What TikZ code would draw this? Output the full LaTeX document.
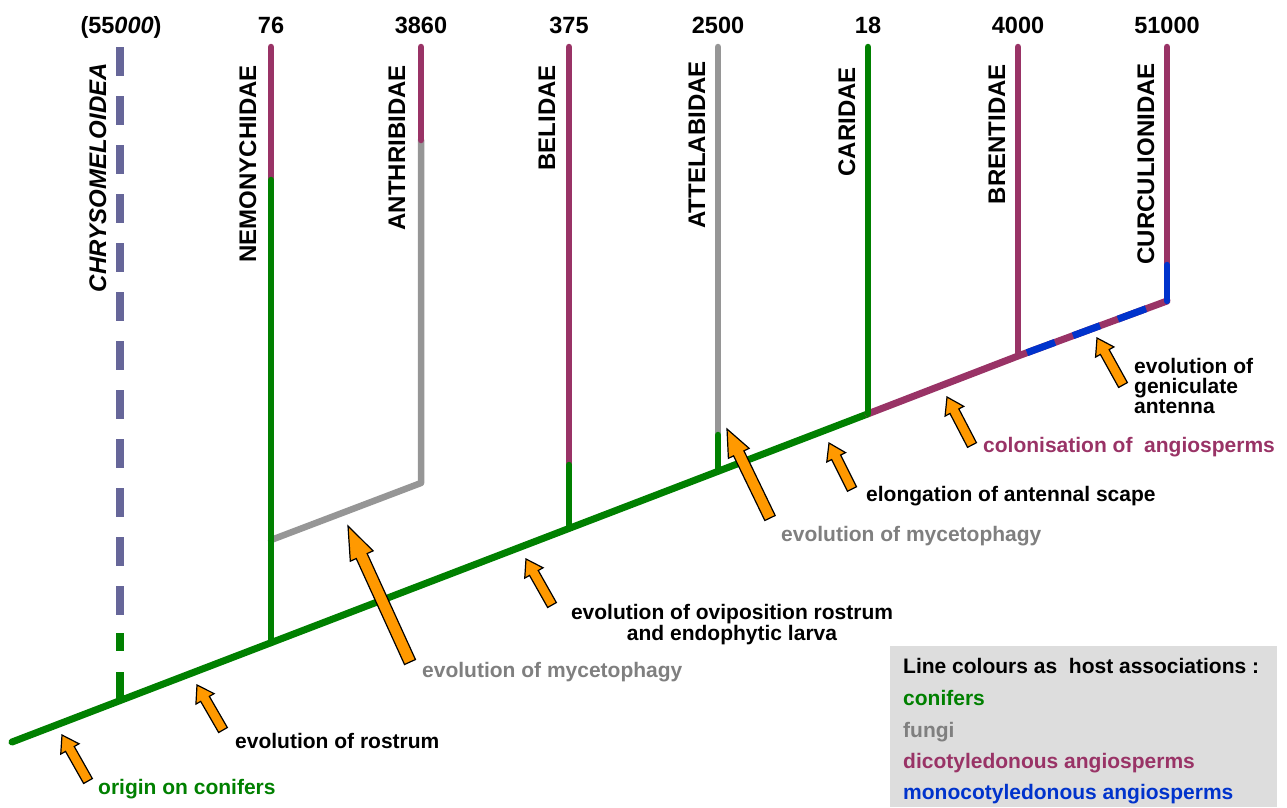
\documentclass[tikz,border=0pt]{standalone}
\usepackage{fontspec}
\setmainfont{Liberation Sans}
\usetikzlibrary{calc}
\definecolor{cgreen}{HTML}{008000}
\definecolor{cpurple}{HTML}{993366}
\definecolor{cgrey}{HTML}{969696}
\definecolor{ctxtgrey}{HTML}{7F7F7F}
\definecolor{cblue}{HTML}{0033CC}
\definecolor{clav}{HTML}{666699}
\definecolor{corange}{HTML}{FF9900}
\definecolor{clegend}{HTML}{DDDDDD}
\newcommand\blockarrow[7]{%
  \pgfmathsetmacro\baang{atan2(#2-#4,#3-#1)}%
  \pgfmathsetmacro\balen{veclen(#3-#1,#4-#2)}%
  \pgfmathsetmacro\bahb{\balen-#7}%
  \begin{scope}[shift={(#1,#2)},rotate=\baang]
    \draw[orarrow] (0,-#5/2) -- (\bahb,-#5/2) -- (\bahb,-#6/2) -- (\balen,0) -- (\bahb,#6/2) -- (\bahb,#5/2) -- (0,#5/2) -- cycle;
  \end{scope}}
\begin{document}
\begin{tikzpicture}[x=1pt,y=-1pt,
  br/.style={line width=6.5pt,line cap=round,line join=round},
  trunk/.style={line width=7pt,line cap=round,line join=round},
  orarrow/.style={draw=black,line width=1.2pt,fill=corange,line join=miter},
  fam/.style={font=\fontsize{24}{24}\selectfont\bfseries,rotate=90,anchor=base east,inner sep=0pt},
  num/.style={font=\fontsize{23.5}{24}\selectfont\bfseries,anchor=base,inner sep=0pt},
  lab/.style={font=\fontsize{21}{21}\selectfont\bfseries,anchor=base west,inner sep=0pt},
  labc/.style={lab,anchor=base}]
\useasboundingbox (0,0) rectangle (1287,807);
% coordinates of the tree
\coordinate (root) at (12,742);
\coordinate (jChr) at (120,700.6);
\coordinate (jNem) at (271,643);
\coordinate (jAnt) at (271,540);
\coordinate (bAnt) at (421,483);
\coordinate (jBel) at (569,528.5);
\coordinate (jAtt) at (718,471.3);
\coordinate (jCar) at (868,413.8);
\coordinate (jBre) at (1018,356);
\coordinate (jCur) at (1167,301);
\coordinate (tChr) at (120,47);
\coordinate (eChr) at (120,615);
\coordinate (g1a) at (120,633);
\coordinate (g1b) at (120,651);
\coordinate (g2a) at (120,672);
\coordinate (tNem) at (271,47);
\coordinate (sNem) at (271,180);
\coordinate (tAnt) at (421,47);
\coordinate (sAnt) at (421,140);
\coordinate (tBel) at (569,47);
\coordinate (sBel) at (569,465);
\coordinate (tAtt) at (718,47);
\coordinate (sAtt) at (718,435);
\coordinate (tCar) at (868,47);
\coordinate (tBre) at (1018,47);
\coordinate (tCur) at (1167,47);
\coordinate (sCur) at (1167,265);
% Chrysomeloidea (dashed)
\draw[clav,line width=8pt,dash pattern=on 29pt off 20pt] (tChr) -- (eChr);
\draw[cgreen,line width=8pt] (g1a) -- (g1b);
\draw[cgreen,line width=8pt] (g2a) -- (jChr);
% trunk
\draw[trunk,cgreen] (root) -- (jCar);
\draw[trunk,cpurple] (jCar) -- (jBre) -- (jCur);
\draw[cblue,line width=7pt] ($(jBre)!0.06!(jCur)$) -- ($(jBre)!0.248!(jCur)$);
\draw[cblue,line width=7pt] ($(jBre)!0.369!(jCur)$) -- ($(jBre)!0.55!(jCur)$);
\draw[cblue,line width=7pt] ($(jBre)!0.671!(jCur)$) -- ($(jBre)!0.859!(jCur)$);
% branches
\draw[br,cgrey] (jAnt) -- (bAnt) -- (sAnt);
\draw[br,cpurple] (tAnt) -- (sAnt);
\draw[br,cpurple] (tNem) -- (sNem);
\draw[br,cgreen] (sNem) -- (jNem);
\draw[br,cpurple] (tBel) -- (sBel);
\draw[br,cgreen] (sBel) -- (jBel);
\draw[br,cgrey] (tAtt) -- (sAtt);
\draw[br,cgreen] (sAtt) -- (jAtt);
\draw[br,cgreen] (tCar) -- (jCar);
\draw[br,cpurple] (tBre) -- (jBre);
\draw[br,cpurple] (tCur) -- (sCur);
\draw[br,cblue] (sCur) -- (jCur);
% arrows
\blockarrow{88}{781}{62}{735}{10}{21}{16}
\blockarrow{223}{730}{197}{685}{10}{21}{16}
\blockarrow{410}{662}{348}{526}{12}{25}{33}
\blockarrow{552}{605}{526}{559}{10}{21}{16}
\blockarrow{770}{518}{727}{429}{11.5}{23}{27}
\blockarrow{852}{489}{829}{443}{10}{21}{16}
\blockarrow{972}{445}{947}{397}{10}{21}{16}
\blockarrow{1123}{385}{1097}{338}{10}{21}{16}
% numbers
\node[num] (nChr) at (121,33) {(55\textit{000})};
\node[num] (nNem) at (271,33) {76};
\node[num] (nAnt) at (421,33) {3860};
\node[num] (nBel) at (569,33) {375};
\node[num] (nAtt) at (718,33) {2500};
\node[num] (nCar) at (868,33) {18};
\node[num] (nBre) at (1018,33) {4000};
\node[num] (nCur) at (1167,33) {51000};
% family names
\node[fam,font=\fontsize{24}{24}\selectfont\bfseries\itshape] (fChr) at (106,63) {CHRYSOMELOIDEA};
\node[fam] (fNem) at (256,65) {NEMONYCHIDAE};
\node[fam] (fAnt) at (405,65) {ANTHRIBIDAE};
\node[fam] (fBel) at (555,65) {BELIDAE};
\node[fam] (fAtt) at (705,61) {ATTELABIDAE};
\node[fam] (fCar) at (855,67) {CARIDAE};
\node[fam] (fBre) at (1005,64) {BRENTIDAE};
\node[fam] (fCur) at (1154,63) {CURCULIONIDAE};
% labels
\node[lab,text=cgreen] (lOrig) at (98,794) {origin on conifers};
\node[lab] (lRost) at (235,748) {evolution of rostrum};
\node[lab,text=ctxtgrey] (lMyc1) at (422,677) {evolution of mycetophagy};
\node[labc] (lOvi1) at (732,619) {evolution of oviposition rostrum};
\node[labc] (lOvi2) at (732,640) {and endophytic larva};
\node[lab,text=ctxtgrey] (lMyc2) at (781,541) {evolution of mycetophagy};
\node[lab] (lElo) at (866,501) {elongation of antennal scape};
\node[lab,text=cpurple] (lCol) at (983,452) {colonisation of~~angiosperms};
\node[lab] (lGen1) at (1134,373) {evolution of};
\node[lab] (lGen2) at (1134,393) {geniculate};
\node[lab] (lGen3) at (1134,413) {antenna};
% legend
\fill[clegend] (890,646) rectangle (1277,807);
\node[lab] (gHead) at (903,673) {Line colours as~~host associations :};
\node[lab,text=cgreen] (gCon) at (903,705) {conifers};
\node[lab,text=ctxtgrey] (gFun) at (903,737) {fungi};
\node[lab,text=cpurple] (gDic) at (903,768) {dicotyledonous angiosperms};
\node[lab,text=cblue] (gMon) at (903,799) {monocotyledonous angiosperms};
\end{tikzpicture}
\end{document}
